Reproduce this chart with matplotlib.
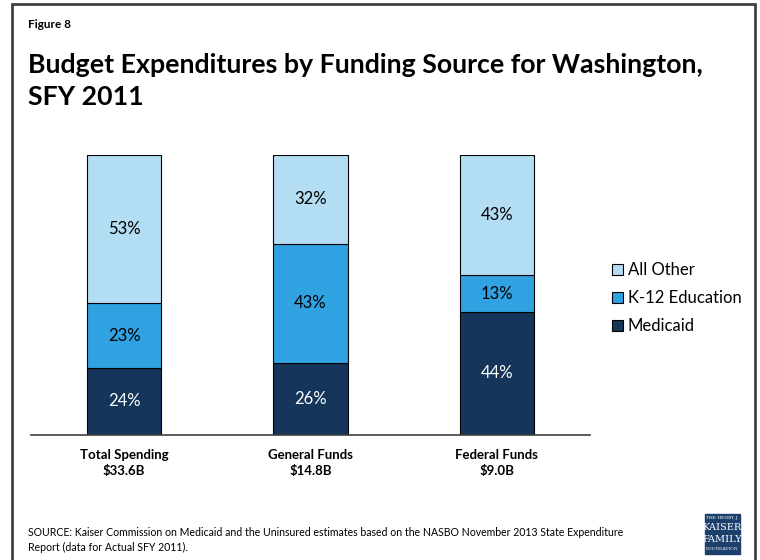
import matplotlib
matplotlib.use("Agg")
from matplotlib import pyplot as plt
from matplotlib.patches import Rectangle
import numpy as np

plt.rcParams['font.family'] = ['Lato', 'DejaVu Sans']

# data
categories = ['Total Spending\n$33.6B', 'General Funds\n$14.8B', 'Federal Funds\n$9.0B']
series_names = ['Medicaid', 'K-12 Education', 'All Other']
medicaid = [24, 26, 44]
k12 = [23, 43, 13]
all_other = [53, 32, 43]
colors = ['#15355A', '#30A2E2', '#B3DDF3']
label_colors = ['white', 'black', 'black']

fig = plt.figure(figsize=(7.6, 5.6), dpi=100)

# outer frame
fig.patches.append(Rectangle((12 / 760, -0.05), 743 / 760, 1.05 - 4 / 560,
                             transform=fig.transFigure, fill=False,
                             edgecolor='#404040', linewidth=2))

ax = fig.add_axes([31 / 760, 1 - 435 / 560, 559 / 760, 280 / 560])

x = np.arange(len(categories))
stack = np.array([medicaid, k12, all_other], dtype=float)
totals = stack.sum(axis=0)
shares = stack / totals * 100  # bars all reach the same top

bottom = np.zeros(len(categories))
for i, name in enumerate(series_names):
    ax.bar(x, shares[i], 0.40, bottom=bottom, color=colors[i],
           edgecolor='black', linewidth=0.8, label=name, zorder=2)
    for j in range(len(categories)):
        ax.text(x[j], bottom[j] + shares[i][j] / 2, '%d%%' % stack[i][j],
                ha='center', va='center', fontsize=12, color=label_colors[i])
    bottom += shares[i]

ax.set_xlim(-0.5, 2.5)
ax.set_ylim(0, 100)
for side in ['top', 'right', 'left']:
    ax.spines[side].set_visible(False)
ax.spines['bottom'].set_color('#404040')
ax.spines['bottom'].set_linewidth(1.2)
ax.set_yticks([])
ax.set_xticks(x)
ax.set_xticklabels(categories, fontsize=9.5, fontweight='bold', linespacing=1.4)
ax.tick_params(axis='x', length=0, pad=10)

handles, labels = ax.get_legend_handles_labels()
leg = fig.legend(handles[::-1], labels[::-1], loc='center left',
                 bbox_to_anchor=(597 / 760, 1 - 298 / 560), frameon=False,
                 fontsize=12, handlelength=0.65, handleheight=0.65,
                 handletextpad=0.3, labelspacing=0.72)

fig.text(28 / 760, 1 - 24 / 560, 'Figure 8', fontsize=8.5, fontweight='bold',
         va='center')
fig.text(28 / 760, 1 - 81 / 560,
         'Budget Expenditures by Funding Source for Washington,\nSFY 2011',
         fontsize=19.3, fontweight='bold', va='center', linespacing=1.4)
fig.text(28 / 760, 1 - 540 / 560,
         'SOURCE: Kaiser Commission on Medicaid and the Uninsured estimates based on the NASBO November 2013 State Expenditure\nReport (data for Actual SFY 2011).',
         fontsize=7.6, va='center', linespacing=1.5)

# logo block
fig.patches.append(Rectangle((705 / 760, 1 - 554 / 560), 35 / 760, 40 / 560,
                             transform=fig.transFigure, color='#1D3F6B'))
lx = 722.5 / 760
fig.text(lx, 1 - 518 / 560, 'THE HENRY J.', fontsize=3.2, color='white',
         ha='center', va='center', family='DejaVu Serif')
fig.text(lx, 1 - 528 / 560, 'KAISER', fontsize=7, color='white',
         ha='center', va='center', family='DejaVu Serif')
fig.text(lx, 1 - 539 / 560, 'FAMILY', fontsize=7, color='white',
         ha='center', va='center', family='DejaVu Serif')
fig.text(lx, 1 - 549 / 560, 'FOUNDATION', fontsize=3.2, color='white',
         ha='center', va='center', family='DejaVu Serif')

fig.savefig('out.png', dpi=100)
